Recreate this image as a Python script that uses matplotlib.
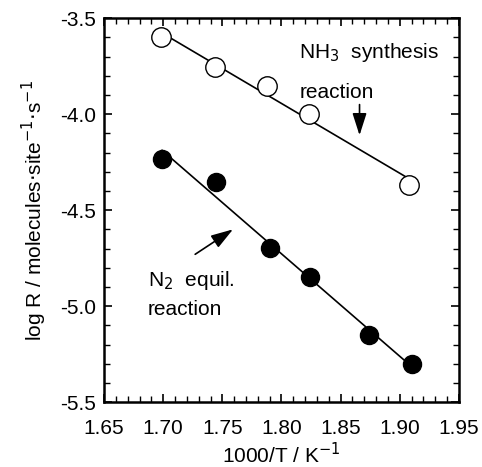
import numpy as np
import matplotlib
matplotlib.use('Agg')
import matplotlib.pyplot as plt
from matplotlib.ticker import MultipleLocator

# NH3 synthesis (open circles)
x_nh3 = [1.698, 1.744, 1.788, 1.823, 1.908]
y_nh3 = [-3.60, -3.755, -3.854, -4.00, -4.37]
# N2 equilibration (filled circles)
x_n2 = [1.699, 1.745, 1.790, 1.824, 1.874, 1.910]
y_n2 = [-4.235, -4.354, -4.698, -4.849, -5.151, -5.302]

x_ticks = [1.65, 1.70, 1.75, 1.80, 1.85, 1.90, 1.95]
y_ticks = [-5.5, -5.0, -4.5, -4.0, -3.5]

plt.rcParams['font.family'] = ['Liberation Sans', 'DejaVu Sans']

fig = plt.figure(figsize=(4.82, 4.67), dpi=100)
ax = fig.add_axes([0.216, 0.139, 0.736, 0.822])

def fit_line(xs, ys):
  k, b = np.polyfit(xs, ys, 1)
  xx = np.array([min(xs), max(xs)])
  ax.plot(xx, k * xx + b, color='black', lw=1.2, zorder=2)

fit_line(x_nh3, y_nh3)
fit_line(x_n2, y_n2)

ax.plot(x_nh3, y_nh3, 'o', ms=14, mfc='white', mec='black', mew=1.0, zorder=3)
ax.plot(x_n2, y_n2, 'o', ms=13, mfc='black', mec='black', zorder=3)

ax.set_xlim(1.65, 1.95)
ax.set_ylim(-5.5, -3.5)
ax.set_xticks(x_ticks)
ax.set_xticklabels(['%.2f' % v for v in x_ticks])
ax.set_yticks(y_ticks)
ax.set_yticklabels(['%.1f' % v for v in y_ticks])
ax.xaxis.set_minor_locator(MultipleLocator(0.01))
ax.yaxis.set_minor_locator(MultipleLocator(0.1))
ax.tick_params(which='both', direction='in', top=True, right=True, labelsize=15)
ax.tick_params(which='major', length=6, width=1.2)
ax.tick_params(which='minor', length=4, width=1)
ax.tick_params(axis='x', which='major', pad=12)
ax.tick_params(axis='y', which='major', pad=6)
for s in ax.spines.values():
  s.set_linewidth(1.8)

ax.set_xlabel('1000/T / K$^{-1}$', fontsize=15, labelpad=3)
ax.set_ylabel('log R / molecules$\\cdot$site$^{-1}$$\\cdot$s$^{-1}$', fontsize=15, labelpad=8)

arrow_style = dict(arrowstyle='-|>,head_length=0.75,head_width=0.24', color='black',
                   lw=1.2, mutation_scale=18, shrinkA=0, shrinkB=0)

ax.text(1.815, -3.68, 'NH$_3$  synthesis', fontsize=15, va='center')
ax.text(1.815, -3.885, 'reaction', fontsize=15, va='center')
ax.annotate('', xy=(1.866, -4.11), xytext=(1.866, -3.95), arrowprops=arrow_style)

ax.text(1.687, -4.865, 'N$_2$  equil.', fontsize=15, va='center')
ax.text(1.687, -5.02, 'reaction', fontsize=15, va='center')
ax.annotate('', xy=(1.759, -4.60), xytext=(1.727, -4.73), arrowprops=arrow_style)

plt.savefig('out.png', dpi=100)
